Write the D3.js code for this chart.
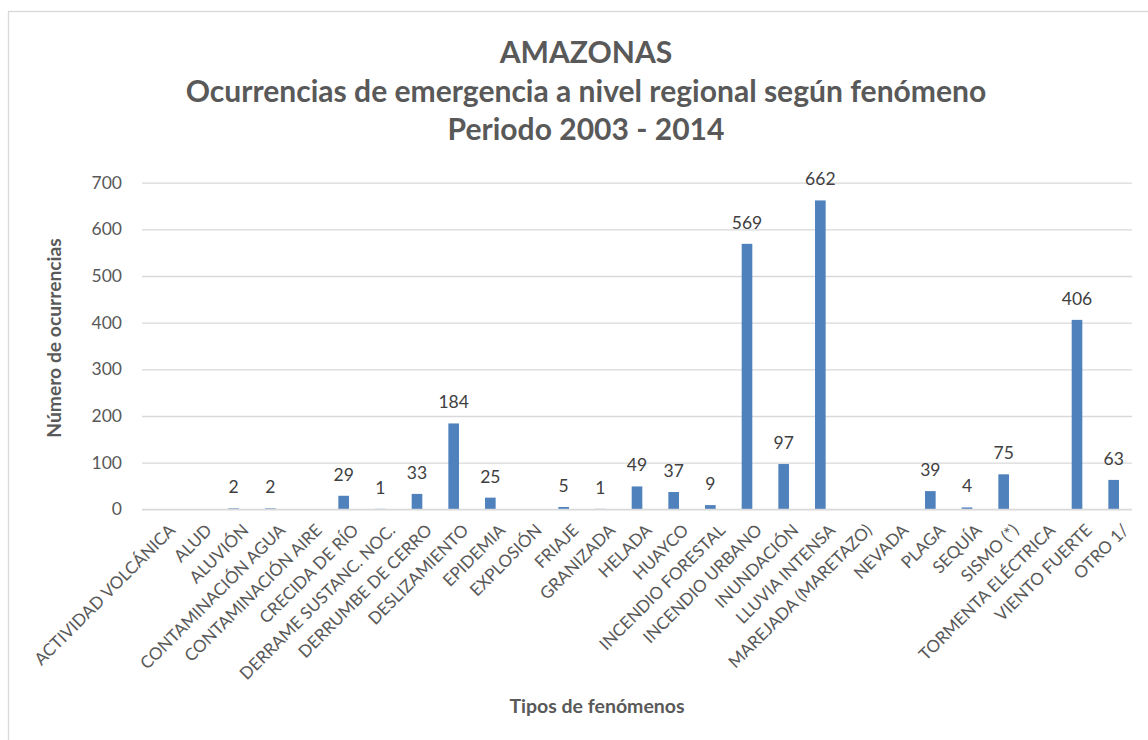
<!DOCTYPE html>
<html><head><meta charset="utf-8">
<script src="https://cdn.jsdelivr.net/npm/d3@7"></script>
<style>
html,body{margin:0;padding:0;background:#fff;}
svg{display:block;font-family:Lato, "Open Sans", sans-serif;}
</style></head>
<body>
<svg id="chart" width="1148" height="740"></svg>
<script>
const categories = ["ACTIVIDAD VOLCÁNICA","ALUD","ALUVIÓN","CONTAMINACIÓN AGUA","CONTAMINACIÓN AIRE","CRECIDA DE RÍO","DERRAME SUSTANC. NOC.","DERRUMBE DE CERRO","DESLIZAMIENTO","EPIDEMIA","EXPLOSIÓN","FRIAJE","GRANIZADA","HELADA","HUAYCO","INCENDIO FORESTAL","INCENDIO URBANO","INUNDACIÓN","LLUVIA INTENSA","MAREJADA (MARETAZO)","NEVADA","PLAGA","SEQUÍA","SISMO (*)","TORMENTA ELÉCTRICA","VIENTO FUERTE","OTRO 1/"];
const values = [0,0,2,2,0,29,1,33,184,25,0,5,1,49,37,9,569,97,662,0,0,39,4,75,0,406,63];
const yTicks = [0,100,200,300,400,500,600,700];
const titleLines = ["AMAZONAS","Ocurrencias de emergencia a nivel regional según fenómeno","Periodo 2003 - 2014"];
const yTitle = "Número de ocurrencias";
const xTitle = "Tipos de fenómenos";

const svg = d3.select("#chart");
const W = 1148, H = 740;
const m = {left:142, right:1132, top:182.7, bottom:509.3};

// outer frame
svg.append("rect").attr("x",8.5).attr("y",11.5).attr("width",W+10).attr("height",H+10)
  .attr("fill","#fff").attr("stroke","#d9d9d9").attr("stroke-width",1.3);

const x = d3.scaleBand().domain(categories).range([m.left,m.right]).paddingInner(0.71).paddingOuter(0.355);
const y = d3.scaleLinear().domain([0,700]).range([m.bottom,m.top]);

// gridlines
const yAxis = d3.axisLeft(y).tickValues(yTicks).tickSize(-(m.right-m.left)).tickPadding(20);
const gy = svg.append("g").attr("transform",`translate(${m.left},0)`).call(yAxis);
gy.select(".domain").remove();
gy.selectAll(".tick line").attr("stroke","#d9d9d9").attr("stroke-width",1.3);
gy.selectAll(".tick text").attr("fill","#595959").style("font-size","17.5px").style("font-family","Lato");

// bars
svg.append("g").selectAll("rect").data(values).join("rect")
  .attr("x",(d,i)=>x(categories[i]))
  .attr("width",x.bandwidth())
  .attr("y",d=>y(d))
  .attr("height",d=>y(0)-y(d))
  .attr("fill","#4f81bd");

// data labels
svg.append("g").selectAll("text").data(values.map((v,i)=>({v,c:categories[i]})).filter(d=>d.v>0)).join("text")
  .attr("x",d=>x(d.c)+x.bandwidth()/2)
  .attr("y",d=>y(d.v)-15)
  .attr("text-anchor","middle")
  .attr("fill","#404040")
  .style("font-size","17.5px")
  .text(d=>d.v);

// x axis baseline
svg.append("line").attr("x1",m.left).attr("x2",m.right).attr("y1",y(0)).attr("y2",y(0))
  .attr("stroke","#d9d9d9").attr("stroke-width",1.3);

// category labels
const xAxis = d3.axisBottom(x).tickSize(0).tickPadding(0);
const gx = svg.append("g").attr("transform",`translate(0,${m.bottom})`).call(xAxis);
gx.select(".domain").remove();
gx.selectAll(".tick text")
  .attr("fill","#595959").style("font-size","17px").style("font-family","Lato")
  .attr("text-anchor","end")
  .attr("transform","translate(7,13) rotate(-45)")
  .attr("dy","0.75em").attr("y",0).attr("x",0);

// titles
const tg = svg.append("g").attr("fill","#595959").attr("font-weight","bold").attr("text-anchor","middle");
const baselines = [62.7,101.7,140];
const t2 = tg.append("text").style("font-size","24px").text(titleLines[1]);
const scale = 801 / t2.node().getComputedTextLength();
const fs = 24*scale;
t2.remove();
titleLines.forEach((t,i)=>{
  tg.append("text").attr("x",586).attr("y",baselines[i]).style("font-size",fs+"px").text(t);
});

svg.append("text").attr("transform","translate(61,338) rotate(-90)")
  .attr("text-anchor","middle").attr("fill","#595959").attr("font-weight","bold")
  .style("font-size","19.3px").text(yTitle);
svg.append("text").attr("x",597).attr("y",713)
  .attr("text-anchor","middle").attr("fill","#595959").attr("font-weight","bold")
  .style("font-size","19.5px").text(xTitle);
</script>
</body></html>
